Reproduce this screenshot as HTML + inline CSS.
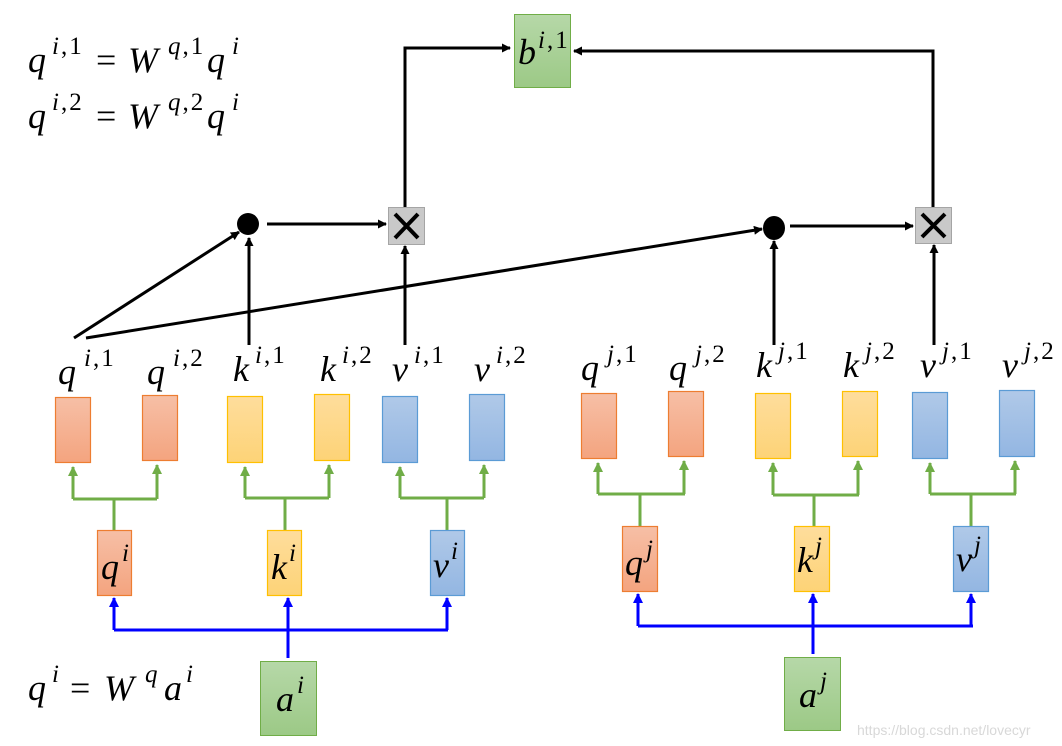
<!DOCTYPE html>
<html><head><meta charset="utf-8"><style>
html,body{margin:0;padding:0;background:#fff;}
svg{display:block;}
.m{font-family:"Liberation Serif",serif;font-style:italic;font-size:36px;fill:#000;}
.s{font-size:25px;letter-spacing:2px;}
.e{font-style:normal;}
.d{font-style:normal;}
</style></head><body>
<svg width="1062" height="746" viewBox="0 0 1062 746" xmlns="http://www.w3.org/2000/svg">
<defs>
<linearGradient id="gR" x1="0" y1="0" x2="0" y2="1"><stop offset="0" stop-color="#f6bfa6"/><stop offset="1" stop-color="#f4a47f"/></linearGradient>
<linearGradient id="gY" x1="0" y1="0" x2="0" y2="1"><stop offset="0" stop-color="#fedd9c"/><stop offset="1" stop-color="#fdd377"/></linearGradient>
<linearGradient id="gB" x1="0" y1="0" x2="0" y2="1"><stop offset="0" stop-color="#b0c9e8"/><stop offset="1" stop-color="#93b6e2"/></linearGradient>
<linearGradient id="gG" x1="0" y1="0" x2="0" y2="1"><stop offset="0" stop-color="#b6d8a8"/><stop offset="1" stop-color="#9cc986"/></linearGradient>
<marker id="ak" markerWidth="9" markerHeight="9" refX="8" refY="4.5" orient="auto" markerUnits="userSpaceOnUse"><path d="M0,0 L9,4.5 L0,9 z" fill="#000"/></marker>
<marker id="ag" markerWidth="10" markerHeight="10" refX="9" refY="5" orient="auto" markerUnits="userSpaceOnUse"><path d="M0,0 L10,5 L0,10 z" fill="#70ad47"/></marker>
<marker id="ab" markerWidth="10" markerHeight="10" refX="9" refY="5" orient="auto" markerUnits="userSpaceOnUse"><path d="M0,0 L10,5 L0,10 z" fill="#0000ff"/></marker>
</defs>

<!-- top-left equations -->
<g class="m">
<text class="m" x="28" y="72">q</text><text class="m s" x="52" y="54">i<tspan class="d">,1</tspan></text>
<text class="m e" x="96" y="72">=</text>
<text class="m" x="128" y="72">W</text><text class="m s" x="168" y="54">q<tspan class="d">,1</tspan></text>
<text class="m" x="207" y="72">q</text><text class="m s" x="232" y="54">i</text>

<text class="m" x="28" y="128">q</text><text class="m s" x="52" y="110">i<tspan class="d">,2</tspan></text>
<text class="m e" x="96" y="128">=</text>
<text class="m" x="128" y="128">W</text><text class="m s" x="168" y="110">q<tspan class="d">,2</tspan></text>
<text class="m" x="207" y="128">q</text><text class="m s" x="232" y="110">i</text>

<text class="m" x="28" y="700">q</text><text class="m s" x="52" y="682">i</text>
<text class="m e" x="70" y="700">=</text>
<text class="m" x="104" y="700">W</text><text class="m s" x="145" y="682">q</text>
<text class="m" x="164" y="700">a</text><text class="m s" x="186" y="682">i</text>
</g>

<!-- b box -->
<rect x="514.5" y="14.5" width="56" height="73" fill="url(#gG)" stroke="#70ad47"/>
<text class="m" x="518" y="64">b<tspan class="s" dx="2" dy="-16">i<tspan class="d">,1</tspan></tspan></text>

<!-- black paths -->
<g stroke="#000" stroke-width="3" fill="none">
<path d="M405,207 L405,48 L510,48" marker-end="url(#ak)"/>
<path d="M933,207 L933,51 L574,51" marker-end="url(#ak)"/>
<path d="M267,224 L386,224" marker-end="url(#ak)"/>
<path d="M790,226 L913,226" marker-end="url(#ak)"/>
<path d="M74,338 L239,232" marker-end="url(#ak)"/>
<path d="M86,338 L762,229" marker-end="url(#ak)"/>
<path d="M249,345 L249,238" marker-end="url(#ak)"/>
<path d="M405,345 L405,246" marker-end="url(#ak)"/>
<path d="M774,345 L774,241" marker-end="url(#ak)"/>
<path d="M934,345 L934,245" marker-end="url(#ak)"/>
</g>
<circle cx="248" cy="224" r="11" fill="#000"/>
<ellipse cx="774" cy="228" rx="11" ry="12" fill="#000"/>
<g>
<rect x="388.5" y="207.5" width="36" height="37" fill="#c9c9c9" stroke="#a5a5a5"/>
<path d="M395,214 L418,238 M418,214 L395,238" stroke="#000" stroke-width="4"/>
<rect x="915.5" y="207.5" width="36" height="36" fill="#c9c9c9" stroke="#a5a5a5"/>
<path d="M922,214 L945,237 M945,214 L922,237" stroke="#000" stroke-width="4"/>
</g>

<!-- labels row -->
<g>
<text class="m" x="58" y="384">q<tspan class="s" dx="8" dy="-18">i<tspan class="d">,1</tspan></tspan></text>
<text class="m" x="147" y="384">q<tspan class="s" dx="8" dy="-18">i<tspan class="d">,2</tspan></tspan></text>
<text class="m" x="233" y="381">k<tspan class="s" dx="6" dy="-18">i<tspan class="d">,1</tspan></tspan></text>
<text class="m" x="320" y="381">k<tspan class="s" dx="6" dy="-18">i<tspan class="d">,2</tspan></tspan></text>
<text class="m" x="392" y="381">v<tspan class="s" dx="6" dy="-18">i<tspan class="d">,1</tspan></tspan></text>
<text class="m" x="474" y="381">v<tspan class="s" dx="6" dy="-18">i<tspan class="d">,2</tspan></tspan></text>
<text class="m" x="581" y="380">q<tspan class="s" dx="8" dy="-18">j<tspan class="d">,1</tspan></tspan></text>
<text class="m" x="669" y="380">q<tspan class="s" dx="8" dy="-18">j<tspan class="d">,2</tspan></tspan></text>
<text class="m" x="756" y="377">k<tspan class="s" dx="6" dy="-18">j<tspan class="d">,1</tspan></tspan></text>
<text class="m" x="843" y="377">k<tspan class="s" dx="6" dy="-18">j<tspan class="d">,2</tspan></tspan></text>
<text class="m" x="920" y="377">v<tspan class="s" dx="6" dy="-18">j<tspan class="d">,1</tspan></tspan></text>
<text class="m" x="1002" y="377">v<tspan class="s" dx="6" dy="-18">j<tspan class="d">,2</tspan></tspan></text>
</g>

<!-- small boxes -->
<g stroke-width="1.2">
<rect x="55.5" y="397.5" width="35" height="65" fill="url(#gR)" stroke="#ed7d31"/>
<rect x="142.5" y="395.5" width="35" height="65" fill="url(#gR)" stroke="#ed7d31"/>
<rect x="227.5" y="396.5" width="35" height="66" fill="url(#gY)" stroke="#ffc000"/>
<rect x="314.5" y="394.5" width="35" height="66" fill="url(#gY)" stroke="#ffc000"/>
<rect x="382.5" y="396.5" width="35" height="66" fill="url(#gB)" stroke="#5b9bd5"/>
<rect x="469.5" y="394.5" width="35" height="66" fill="url(#gB)" stroke="#5b9bd5"/>
<rect x="581.5" y="393.5" width="35" height="65" fill="url(#gR)" stroke="#ed7d31"/>
<rect x="668.5" y="391.5" width="35" height="65" fill="url(#gR)" stroke="#ed7d31"/>
<rect x="755.5" y="393.5" width="35" height="65" fill="url(#gY)" stroke="#ffc000"/>
<rect x="842.5" y="391.5" width="35" height="65" fill="url(#gY)" stroke="#ffc000"/>
<rect x="912.5" y="392.5" width="35" height="66" fill="url(#gB)" stroke="#5b9bd5"/>
<rect x="999.5" y="390.5" width="35" height="66" fill="url(#gB)" stroke="#5b9bd5"/>
</g>

<!-- green splits -->
<g stroke="#70ad47" stroke-width="3" fill="none">
<path d="M114,530 L114,499 M73,499 L157,499"/>
<path d="M73,499 L73,467" marker-end="url(#ag)"/><path d="M157,499 L157,465" marker-end="url(#ag)"/>
<path d="M285,530 L285,498 M245,498 L329,498"/>
<path d="M245,498 L245,467" marker-end="url(#ag)"/><path d="M329,498 L329,465" marker-end="url(#ag)"/>
<path d="M447,530 L447,498 M400,498 L484,498"/>
<path d="M400,498 L400,467" marker-end="url(#ag)"/><path d="M484,498 L484,465" marker-end="url(#ag)"/>
<path d="M640,526 L640,494 M598,494 L685,494"/>
<path d="M598,494 L598,463" marker-end="url(#ag)"/><path d="M684,494 L684,461" marker-end="url(#ag)"/>
<path d="M814,526 L814,495 M773,495 L859,495"/>
<path d="M773,495 L773,463" marker-end="url(#ag)"/><path d="M858,495 L858,461" marker-end="url(#ag)"/>
<path d="M971,526 L971,494 M930,494 L1016,494"/>
<path d="M930,494 L930,463" marker-end="url(#ag)"/><path d="M1015,494 L1015,461" marker-end="url(#ag)"/>
</g>

<!-- mid boxes -->
<g stroke-width="1.2">
<rect x="97.5" y="530.5" width="34" height="65" fill="url(#gR)" stroke="#ed7d31"/>
<rect x="267.5" y="530.5" width="34" height="65" fill="url(#gY)" stroke="#ffc000"/>
<rect x="430.5" y="530.5" width="34" height="65" fill="url(#gB)" stroke="#5b9bd5"/>
<rect x="622.5" y="526.5" width="35" height="65" fill="url(#gR)" stroke="#ed7d31"/>
<rect x="794.5" y="526.5" width="35" height="65" fill="url(#gY)" stroke="#ffc000"/>
<rect x="953.5" y="526.5" width="35" height="65" fill="url(#gB)" stroke="#5b9bd5"/>
</g>
<text class="m" x="101" y="579">q<tspan class="s" dx="3" dy="-18">i</tspan></text>
<text class="m" x="271" y="579">k<tspan class="s" dx="2" dy="-18">i</tspan></text>
<text class="m" x="433" y="577">v<tspan class="s" dx="2" dy="-18">i</tspan></text>
<text class="m" x="625" y="575">q<tspan class="s" dx="3" dy="-18">j</tspan></text>
<text class="m" x="797" y="572">k<tspan class="s" dx="2" dy="-18">j</tspan></text>
<text class="m" x="956" y="571">v<tspan class="s" dx="2" dy="-18">j</tspan></text>

<!-- blue -->
<g stroke="#0000ff" stroke-width="3" fill="none">
<path d="M114,630 L448,630 M288,630 L288,658"/>
<path d="M114,630 L114,598" marker-end="url(#ab)"/>
<path d="M288,630 L288,598" marker-end="url(#ab)"/>
<path d="M447,630 L447,598" marker-end="url(#ab)"/>
<path d="M638,626 L973,626 M813,626 L813,654"/>
<path d="M638,626 L638,594" marker-end="url(#ab)"/>
<path d="M813,626 L813,594" marker-end="url(#ab)"/>
<path d="M971,626 L971,594" marker-end="url(#ab)"/>
</g>

<!-- a boxes -->
<rect x="260.5" y="661.5" width="56" height="74" fill="url(#gG)" stroke="#70ad47"/>
<text class="m" x="276" y="711">a<tspan class="s" dx="3" dy="-18">i</tspan></text>
<rect x="784.5" y="657.5" width="56" height="73" fill="url(#gG)" stroke="#70ad47"/>
<text class="m" x="799" y="707">a<tspan class="s" dx="3" dy="-18">j</tspan></text>

<text x="857" y="735" font-family="Liberation Sans, sans-serif" font-size="14" fill="#d8d8d8">https://blog.csdn.net/lovecyr</text>
</svg>
</body></html>
